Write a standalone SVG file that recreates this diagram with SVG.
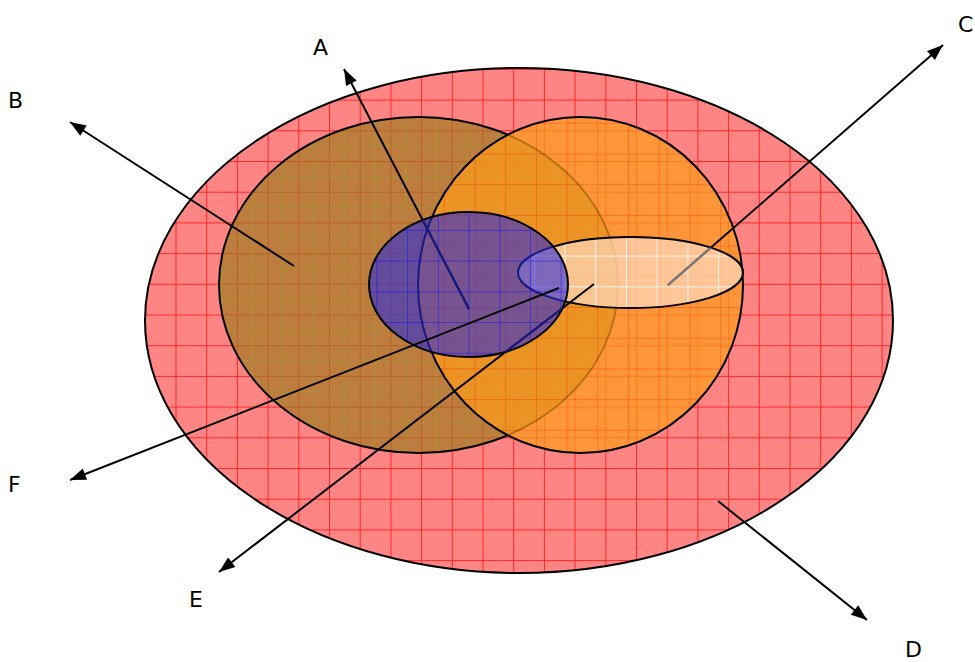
<svg xmlns="http://www.w3.org/2000/svg" width="975" height="662" viewBox="0 0 975 662">
<style>
.lbl{font-family:"DejaVu Sans","Liberation Sans",sans-serif;font-size:22px;fill:#000}
.out{fill:none;stroke:#000;stroke-width:2}
.con{stroke:#000;stroke-width:2;fill:none}
.arr{marker-end:url(#ah)}
</style>
<defs>
<marker id="ah" markerUnits="userSpaceOnUse" markerWidth="18" markerHeight="14" refX="16" refY="6" orient="auto" overflow="visible">
<path d="M0,0 L16,6 L0,12 Z" fill="#000"/>
</marker>
<pattern id="gRed" patternUnits="userSpaceOnUse" x="22" y="7.5" width="30.7" height="30.7"><path d="M0.5,0 V30.7 M0,0.5 H30.7" stroke="#ff1010" stroke-width="1"/></pattern>
<pattern id="gOlive" patternUnits="userSpaceOnUse" x="6" y="-8" width="30.7" height="30.7"><path d="M0.5,0 V30.7 M0,0.5 H30.7" stroke="#8a9a10" stroke-width="1"/></pattern>
<pattern id="gOrange" patternUnits="userSpaceOnUse" x="14" y="0" width="30.7" height="30.7"><path d="M0.5,0 V30.7 M0,0.5 H30.7" stroke="#ff6000" stroke-width="1"/></pattern>
<pattern id="gBlue" patternUnits="userSpaceOnUse" x="8" y="15" width="30.7" height="30.7"><path d="M0.5,0 V30.7 M0,0.5 H30.7" stroke="#0000ff" stroke-width="1"/></pattern>
<pattern id="gWhite" patternUnits="userSpaceOnUse" x="12" y="10" width="30.7" height="30.7"><path d="M0.5,0 V30.7 M0,0.5 H30.7" stroke="#ffffff" stroke-width="1"/></pattern>
<clipPath id="cBlue"><ellipse cx="468.5" cy="284.5" rx="99.5" ry="72.5"/></clipPath>
<clipPath id="cLight"><ellipse cx="630.5" cy="272.5" rx="112.5" ry="35.5"/></clipPath>
</defs>
<rect width="975" height="662" fill="#fff"/>
<g id="outer">
<ellipse cx="519" cy="320.5" rx="374" ry="252.5" fill="#ff8585"/>
<ellipse cx="519" cy="320.5" rx="374" ry="252.5" fill="url(#gRed)" opacity="0.8"/>
<ellipse cx="519" cy="320.5" rx="374" ry="252.5" class="out"/>
</g>
<g id="left-circle">
<g opacity="0.7">
<ellipse cx="418.5" cy="285" rx="199.5" ry="168" fill="#a07a22"/>
<ellipse cx="418.5" cy="285" rx="199.5" ry="168" fill="url(#gOlive)"/>
</g>
<ellipse cx="418.5" cy="285" rx="199.5" ry="168" class="out"/>
</g>
<g id="right-circle">
<g opacity="0.72">
<ellipse cx="580.5" cy="285" rx="162.5" ry="168" fill="#ff9c1c"/>
<ellipse cx="580.5" cy="285" rx="162.5" ry="168" fill="url(#gOrange)" opacity="0.8"/>
</g>
<ellipse cx="580.5" cy="285" rx="162.5" ry="168" class="out"/>
</g>
<g id="light-ellipse">
<ellipse cx="630.5" cy="272.5" rx="112.5" ry="35.5" fill="#ffdcc0" opacity="0.7"/>
<ellipse cx="630.5" cy="272.5" rx="112.5" ry="35.5" fill="url(#gWhite)" opacity="0.8"/>
<ellipse cx="630.5" cy="272.5" rx="112.5" ry="35.5" class="out"/>
</g>
<g id="blue-ellipse">
<ellipse cx="468.5" cy="284.5" rx="99.5" ry="72.5" fill="#2a2ad8" opacity="0.6"/>
<ellipse cx="468.5" cy="284.5" rx="99.5" ry="72.5" fill="url(#gBlue)" opacity="0.4"/>
<ellipse cx="468.5" cy="284.5" rx="99.5" ry="72.5" class="out"/>
</g>
<g id="connectors">
<line id="conA" class="con arr" x1="469" y1="309" x2="344" y2="69"/>
<line class="con" x1="469" y1="309" x2="344" y2="69" style="stroke:#1a1a88" clip-path="url(#cBlue)"/>
<line id="conB" class="con arr" x1="294" y1="266" x2="70" y2="122"/>
<line id="conC" class="con arr" x1="668" y1="285" x2="943" y2="45"/>
<line class="con" x1="668" y1="285" x2="943" y2="45" style="stroke:#808080" clip-path="url(#cLight)"/>
<line id="conD" class="con arr" x1="718" y1="501" x2="867" y2="620"/>
<line id="conE" class="con arr" x1="594" y1="284" x2="219" y2="572"/>
<line class="con" x1="594" y1="284" x2="219" y2="572" style="stroke:#1a1a88" clip-path="url(#cBlue)"/>
<line id="conF" class="con arr" x1="559" y1="288" x2="70" y2="480"/>
</g>
<g id="labels">
<text class="lbl" x="313" y="55">A</text>
<text class="lbl" x="8" y="108">B</text>
<text class="lbl" x="958" y="32">C</text>
<text class="lbl" x="905" y="657">D</text>
<text class="lbl" x="189" y="607">E</text>
<text class="lbl" x="8" y="492">F</text>
</g>
</svg>
